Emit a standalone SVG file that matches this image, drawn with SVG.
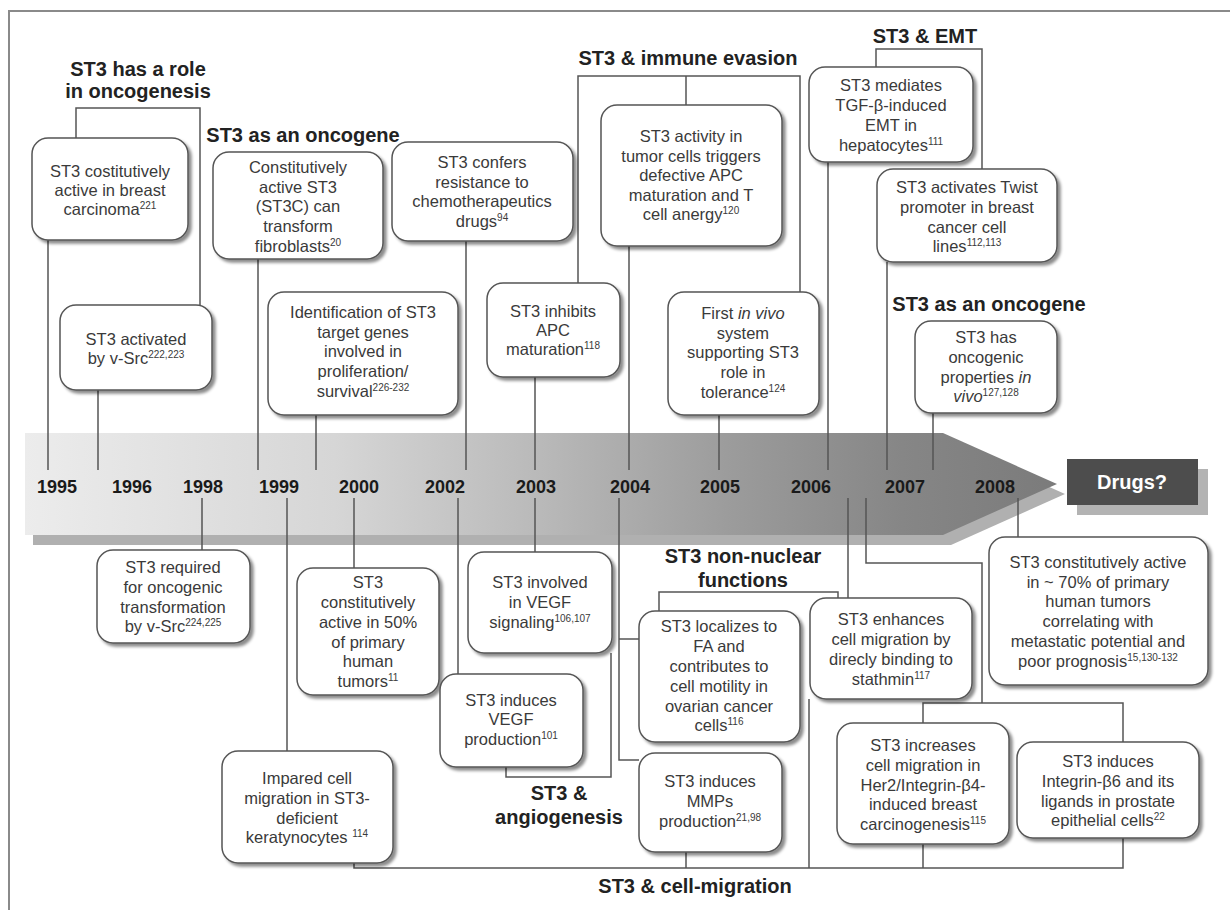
<svg xmlns="http://www.w3.org/2000/svg" width="1230" height="910" viewBox="0 0 1230 910">
<style>
.box{fill:#fff;stroke:#555;stroke-width:1.5;filter:url(#sh)}
.t{font-family:"Liberation Sans",Arial,sans-serif;font-size:16.5px;fill:#3a3a3a;text-anchor:middle}
.h{font-family:"Liberation Sans",Arial,sans-serif;font-size:20px;font-weight:bold;fill:#222;text-anchor:middle}
.yr{font-family:"Liberation Sans",Arial,sans-serif;font-size:18px;font-weight:bold;fill:#1a1a1a;text-anchor:middle}
.sup{font-size:10px}
.conn path{fill:none;stroke:#555;stroke-width:1.5}
</style>
<defs>
<filter id="sh" x="-10%" y="-10%" width="125%" height="125%">
<feDropShadow dx="3" dy="3" stdDeviation="1.5" flood-color="#000" flood-opacity="0.45"/>
</filter>
<linearGradient id="band" x1="25" y1="0" x2="1057" y2="0" gradientUnits="userSpaceOnUse">
<stop offset="0" stop-color="#ececec"/>
<stop offset="0.3" stop-color="#d6d6d6"/>
<stop offset="0.5" stop-color="#b9b9b9"/>
<stop offset="0.68" stop-color="#9c9c9c"/>
<stop offset="0.85" stop-color="#868686"/>
<stop offset="1" stop-color="#7b7b7b"/>
</linearGradient>
</defs>
<rect width="1230" height="910" fill="#fff"/>
<path d="M9,910 V11 H1230" fill="none" stroke="#8a8a8a" stroke-width="2"/>

<g id="timeline">
<polygon points="33,443 951,443 1065,494 951,545 33,545" fill="#b0b0b0"/>
<polygon points="25,433 943,433 1057,484 943,535 25,535" fill="url(#band)"/>
</g>
<g id="drugs">
<rect x="1077" y="469" width="131" height="46" fill="#b3b3b3"/>
<rect x="1067" y="459" width="131" height="46" fill="#4d4d4d"/>
<text x="1132" y="489" font-family="Liberation Sans, Arial, sans-serif" font-size="20" font-weight="bold" fill="#fff" text-anchor="middle">Drugs?</text>
</g>

<g id="years">
<text class="yr" x="57" y="493">1995</text>
<text class="yr" x="132" y="493">1996</text>
<text class="yr" x="203" y="493">1998</text>
<text class="yr" x="279" y="493">1999</text>
<text class="yr" x="359" y="493">2000</text>
<text class="yr" x="445" y="493">2002</text>
<text class="yr" x="536" y="493">2003</text>
<text class="yr" x="630" y="493">2004</text>
<text class="yr" x="720" y="493">2005</text>
<text class="yr" x="811" y="493">2006</text>
<text class="yr" x="905" y="493">2007</text>
<text class="yr" x="995" y="493">2008</text>
</g>

<g class="conn" id="connectors">
<path d="M76,138 V108 H200 V305"/>
<path d="M48,240 V470"/>
<path d="M98,390 V470"/>
<path d="M258,259 V470"/>
<path d="M316,415 V470"/>
<path d="M466,241 V470"/>
<path d="M578,283 V76 H800 V292"/>
<path d="M686,76 V105"/>
<path d="M535,377 V470"/>
<path d="M629,246 V470"/>
<path d="M719,415 V470"/>
<path d="M876,67 V49 H982 V169"/>
<path d="M828,162 V470"/>
<path d="M887,262 V470"/>
<path d="M933,413 V470"/>
<path d="M202,498 V550"/>
<path d="M287,498 V751"/>
<path d="M354,498 V568"/>
<path d="M458,498 V674"/>
<path d="M535,498 V552"/>
<path d="M619,498 V760 H639"/>
<path d="M619,639 H639"/>
<path d="M848,498 V598"/>
<path d="M866,498 V563 H982 V703"/>
<path d="M923,723 V703 H1123 V742"/>
<path d="M1018,498 V537"/>
<path d="M506,767 V777 H611 V653"/>
<path d="M659,611 V592 H838 V598"/>
<path d="M354,863 V868 H1123 V838"/>
<path d="M686,852 V868"/>
<path d="M809,699 V868"/>
<path d="M923,844 V868"/>
</g>

<g id="titles">
<text class="h" x="138" y="76">ST3 has a role</text>
<text class="h" x="138" y="98">in oncogenesis</text>
<text class="h" x="303" y="142">ST3 as an oncogene</text>
<text class="h" x="688" y="65">ST3 &amp; immune evasion</text>
<text class="h" x="925" y="43">ST3 &amp; EMT</text>
<text class="h" x="989" y="311">ST3 as an oncogene</text>
<text class="h" x="743" y="563">ST3 non-nuclear</text>
<text class="h" x="743" y="587">functions</text>
<text class="h" x="559" y="800">ST3 &amp;</text>
<text class="h" x="559" y="824">angiogenesis</text>
<text class="h" x="695" y="893">ST3 &amp; cell-migration</text>
</g>

<g id="n-breast">
<rect class="box" x="32" y="138" width="156" height="102" rx="16"/>
<text class="t"><tspan x="110" y="177">ST3 costitutively</tspan><tspan x="110" y="196">active in breast</tspan><tspan x="110" y="215">carcinoma<tspan class="sup" dy="-6">221</tspan></tspan></text>
</g>
<g id="n-st3c">
<rect class="box" x="213" y="152" width="170" height="107" rx="16"/>
<text class="t"><tspan x="298" y="173">Constitutively</tspan><tspan x="298" y="193">active ST3</tspan><tspan x="298" y="212">(ST3C) can</tspan><tspan x="298" y="232">transform</tspan><tspan x="298" y="252">fibroblasts<tspan class="sup" dy="-6">20</tspan></tspan></text>
</g>
<g id="n-vsrc">
<rect class="box" x="60" y="305" width="152" height="85" rx="16"/>
<text class="t"><tspan x="136" y="345">ST3 activated</tspan><tspan x="136" y="364">by v-Src<tspan class="sup" dy="-6">222,223</tspan></tspan></text>
</g>
<g id="n-targets">
<rect class="box" x="268" y="292" width="190" height="123" rx="16"/>
<text class="t"><tspan x="363" y="318">Identification of ST3</tspan><tspan x="363" y="338">target genes</tspan><tspan x="363" y="357">involved in</tspan><tspan x="363" y="377">proliferation/</tspan><tspan x="363" y="397">survival<tspan class="sup" dy="-6">226-232</tspan></tspan></text>
</g>
<g id="n-chemo">
<rect class="box" x="392" y="142" width="181" height="99" rx="16"/>
<text class="t"><tspan x="482" y="168">ST3 confers</tspan><tspan x="482" y="188">resistance to</tspan><tspan x="482" y="207">chemotherapeutics</tspan><tspan x="482" y="227">drugs<tspan class="sup" dy="-6">94</tspan></tspan></text>
</g>
<g id="n-anergy">
<rect class="box" x="601" y="105" width="181" height="141" rx="16"/>
<text class="t"><tspan x="691" y="142">ST3 activity in</tspan><tspan x="691" y="162">tumor cells triggers</tspan><tspan x="691" y="181">defective APC</tspan><tspan x="691" y="201">maturation and T</tspan><tspan x="691" y="220">cell anergy<tspan class="sup" dy="-6">120</tspan></tspan></text>
</g>
<g id="n-apc">
<rect class="box" x="487" y="283" width="133" height="94" rx="16"/>
<text class="t"><tspan x="553" y="317">ST3 inhibits</tspan><tspan x="553" y="336">APC</tspan><tspan x="553" y="355">maturation<tspan class="sup" dy="-6">118</tspan></tspan></text>
</g>
<g id="n-tolerance">
<rect class="box" x="668" y="292" width="151" height="123" rx="16"/>
<text class="t"><tspan x="743" y="319">First <tspan font-style="italic">in vivo</tspan></tspan><tspan x="743" y="339">system</tspan><tspan x="743" y="358">supporting ST3</tspan><tspan x="743" y="378">role in</tspan><tspan x="743" y="398">tolerance<tspan class="sup" dy="-6">124</tspan></tspan></text>
</g>
<g id="n-tgf">
<rect class="box" x="809" y="67" width="164" height="95" rx="16"/>
<text class="t"><tspan x="891" y="91">ST3 mediates</tspan><tspan x="891" y="111">TGF-β-induced</tspan><tspan x="891" y="131">EMT in</tspan><tspan x="891" y="151">hepatocytes<tspan class="sup" dy="-6">111</tspan></tspan></text>
</g>
<g id="n-twist">
<rect class="box" x="877" y="169" width="180" height="93" rx="16"/>
<text class="t"><tspan x="967" y="193">ST3 activates Twist</tspan><tspan x="967" y="213">promoter in breast</tspan><tspan x="967" y="233">cancer cell</tspan><tspan x="967" y="252">lines<tspan class="sup" dy="-6">112,113</tspan></tspan></text>
</g>
<g id="n-invivo">
<rect class="box" x="915" y="321" width="142" height="92" rx="16"/>
<text class="t"><tspan x="986" y="343">ST3 has</tspan><tspan x="986" y="363">oncogenic</tspan><tspan x="986" y="383">properties <tspan font-style="italic">in</tspan></tspan><tspan x="986" y="402" font-style="italic">vivo<tspan class="sup" dy="-6" font-style="normal">127,128</tspan></tspan></text>
</g>
<g id="n-required">
<rect class="box" x="97" y="550" width="153" height="93" rx="16"/>
<text class="t"><tspan x="173" y="573">ST3 required</tspan><tspan x="173" y="593">for oncogenic</tspan><tspan x="173" y="613">transformation</tspan><tspan x="173" y="632">by v-Src<tspan class="sup" dy="-6">224,225</tspan></tspan></text>
</g>
<g id="n-50">
<rect class="box" x="297" y="568" width="142" height="127" rx="16"/>
<text class="t"><tspan x="368" y="588">ST3</tspan><tspan x="368" y="608">constitutively</tspan><tspan x="368" y="628">active in 50%</tspan><tspan x="368" y="648">of primary</tspan><tspan x="368" y="667">human</tspan><tspan x="368" y="687">tumors<tspan class="sup" dy="-6">11</tspan></tspan></text>
</g>
<g id="n-keratinocytes">
<rect class="box" x="222" y="751" width="171" height="112" rx="16"/>
<text class="t"><tspan x="307" y="784">Impared cell</tspan><tspan x="307" y="804">migration in ST3-</tspan><tspan x="307" y="824">deficient</tspan><tspan x="307" y="843">keratynocytes <tspan class="sup" dy="-6">114</tspan></tspan></text>
</g>
<g id="n-vegf-sig">
<rect class="box" x="468" y="552" width="144" height="101" rx="16"/>
<text class="t"><tspan x="540" y="588">ST3 involved</tspan><tspan x="540" y="608">in VEGF</tspan><tspan x="540" y="628">signaling<tspan class="sup" dy="-6">106,107</tspan></tspan></text>
</g>
<g id="n-vegf-prod">
<rect class="box" x="440" y="674" width="143" height="93" rx="16"/>
<text class="t"><tspan x="511" y="706">ST3 induces</tspan><tspan x="511" y="725">VEGF</tspan><tspan x="511" y="745">production<tspan class="sup" dy="-6">101</tspan></tspan></text>
</g>
<g id="n-fa">
<rect class="box" x="639" y="611" width="161" height="131" rx="16"/>
<text class="t"><tspan x="719" y="632">ST3 localizes to</tspan><tspan x="719" y="652">FA and</tspan><tspan x="719" y="672">contributes to</tspan><tspan x="719" y="692">cell motility in</tspan><tspan x="719" y="712">ovarian cancer</tspan><tspan x="719" y="731">cells<tspan class="sup" dy="-6">116</tspan></tspan></text>
</g>
<g id="n-mmp">
<rect class="box" x="639" y="753" width="143" height="99" rx="16"/>
<text class="t"><tspan x="710" y="787">ST3 induces</tspan><tspan x="710" y="807">MMPs</tspan><tspan x="710" y="827">production<tspan class="sup" dy="-6">21,98</tspan></tspan></text>
</g>
<g id="n-stathmin">
<rect class="box" x="810" y="598" width="162" height="101" rx="16"/>
<text class="t"><tspan x="891" y="625">ST3 enhances</tspan><tspan x="891" y="645">cell migration by</tspan><tspan x="891" y="665">direcly binding to</tspan><tspan x="891" y="685">stathmin<tspan class="sup" dy="-6">117</tspan></tspan></text>
</g>
<g id="n-70">
<rect class="box" x="989" y="537" width="219" height="148" rx="16"/>
<text class="t"><tspan x="1098" y="568">ST3 constitutively active</tspan><tspan x="1098" y="588">in ~ 70% of primary</tspan><tspan x="1098" y="607">human tumors</tspan><tspan x="1098" y="627">correlating with</tspan><tspan x="1098" y="647">metastatic potential and</tspan><tspan x="1098" y="667">poor prognosis<tspan class="sup" dy="-6">15,130-132</tspan></tspan></text>
</g>
<g id="n-her2">
<rect class="box" x="837" y="723" width="172" height="121" rx="16"/>
<text class="t"><tspan x="923" y="751">ST3 increases</tspan><tspan x="923" y="771">cell migration in</tspan><tspan x="923" y="791">Her2/Integrin-β4-</tspan><tspan x="923" y="810">induced breast</tspan><tspan x="923" y="830">carcinogenesis<tspan class="sup" dy="-6">115</tspan></tspan></text>
</g>
<g id="n-integrin">
<rect class="box" x="1017" y="742" width="182" height="96" rx="16"/>
<text class="t"><tspan x="1108" y="767">ST3 induces</tspan><tspan x="1108" y="787">Integrin-β6 and its</tspan><tspan x="1108" y="807">ligands in prostate</tspan><tspan x="1108" y="826">epithelial cells<tspan class="sup" dy="-6">22</tspan></tspan></text>
</g>
</svg>
